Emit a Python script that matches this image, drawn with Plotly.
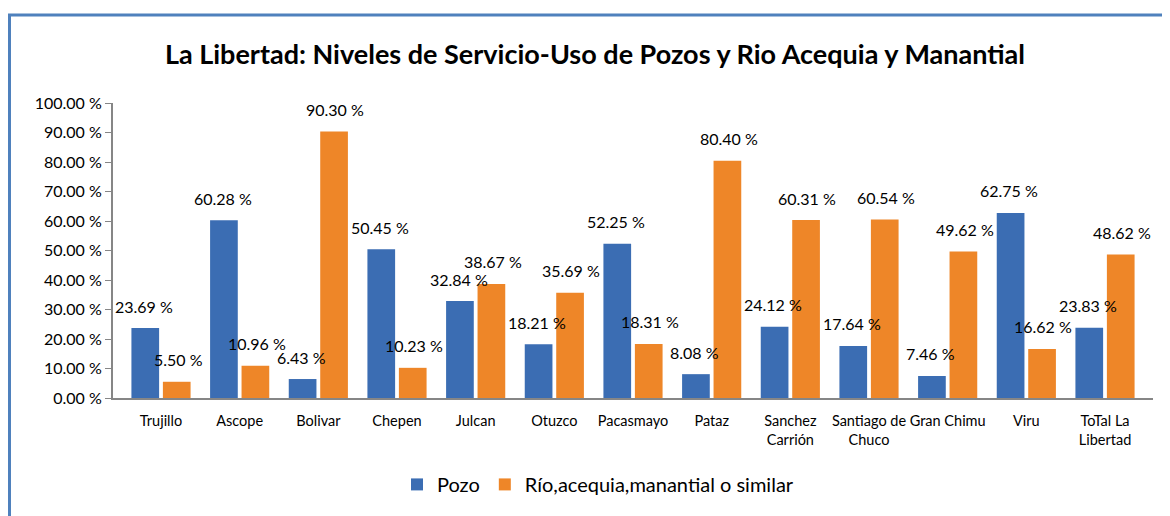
import plotly.graph_objects as go

categories = ["Trujillo", "Ascope", "Bolivar", "Chepen", "Julcan", "Otuzco", "Pacasmayo",
              "Pataz", "Sanchez<br>Carrión", "Santiago de<br>Chuco", "Gran Chimu", "Viru",
              "ToTal La<br>Libertad"]
pozo = [23.69, 60.28, 6.43, 50.45, 32.84, 18.21, 52.25, 8.08, 24.12, 17.64, 7.46, 62.75, 23.83]
rio = [5.50, 10.96, 90.30, 10.23, 38.67, 35.69, 18.31, 80.40, 60.31, 60.54, 49.62, 16.62, 48.62]
y_ticks = [0, 10, 20, 30, 40, 50, 60, 70, 80, 90, 100]
title = "La Libertad: Niveles de Servicio-Uso de Pozos y Rio Acequia y Manantial"
series_names = ["Pozo", "Río,acequia,manantial o similar"]

BLUE = "#3B6DB3"
ORANGE = "#EE8628"
FONT = "Lato"

# page body has an 8px margin; figure coordinates = screen - 8
OFF = 8
W, H = 1170 - OFF, 516 - OFF
L = 113 - OFF
T = 103 - OFF
R = W - (1153 - OFF)
B = H - (400 - OFF)
pw, ph = W - L - R, H - T - B


def px_to_paper_x(px):
    return (px - OFF - L) / pw


def py_to_paper_y(py):
    return (H - B - (py - OFF)) / ph


fig = go.Figure()
for name, vals, col in [(series_names[0], pozo, BLUE), (series_names[1], rio, ORANGE)]:
    fig.add_trace(go.Bar(x=categories, y=vals, name=name, marker=dict(color=col, line=dict(width=0))))

annotations = []
for s, vals in enumerate([pozo, rio]):
    base_dx = -17 if s == 0 else 17
    for i, v in enumerate(vals):
        annotations.append(dict(x=categories[i], y=v, xref="x", yref="y",
                                text=f"{v:.2f} %", showarrow=False,
                                xshift=base_dx, yshift=22,
                                yanchor="middle", xanchor="center",
                                font=dict(family=FONT, size=16, color="#000000")))

fig.add_shape(type="rect", xref="paper", yref="paper",
              x0=px_to_paper_x(9.5), x1=px_to_paper_x(1190),
              y0=py_to_paper_y(540), y1=py_to_paper_y(14.5),
              line=dict(color="#4F81BD", width=3), fillcolor="rgba(0,0,0,0)", layer="below")

fig.update_layout(
    width=W, height=H,
    margin=dict(l=L, r=R, t=T, b=B),
    paper_bgcolor="white", plot_bgcolor="white",
    barmode="group", bargap=0.2, bargroupgap=0.12,
    title=dict(text=f"<b>{title}</b>", x=(595 - OFF) / W, xref="container", xanchor="center",
               y=1 - (55 - OFF) / H, yref="container", yanchor="middle",
               font=dict(family=FONT, size=27, color="#000000")),
    font=dict(family=FONT, color="#000000"),
    showlegend=True,
    legend=dict(orientation="h", x=px_to_paper_x(598), xanchor="center",
                y=py_to_paper_y(487), yanchor="middle",
                font=dict(family=FONT, size=20), itemsizing="constant",
                traceorder="normal", itemwidth=30),
    annotations=annotations,
    xaxis=dict(showline=True, linecolor="#868686", linewidth=2, ticks="outside",
               ticklen=9, tickcolor="rgba(0,0,0,0)", tickfont=dict(family=FONT, size=14.5),
               tickangle=0, showgrid=False, fixedrange=True),
    yaxis=dict(range=[0, 100], tickvals=y_ticks,
               ticktext=[f"{t:.2f} %" for t in y_ticks],
               showline=True, linecolor="#868686", linewidth=2, ticks="outside",
               ticklen=6, tickcolor="#868686", tickfont=dict(family=FONT, size=16),
               showgrid=False, zeroline=False, fixedrange=True),
)

fig.write_html("out.html")
